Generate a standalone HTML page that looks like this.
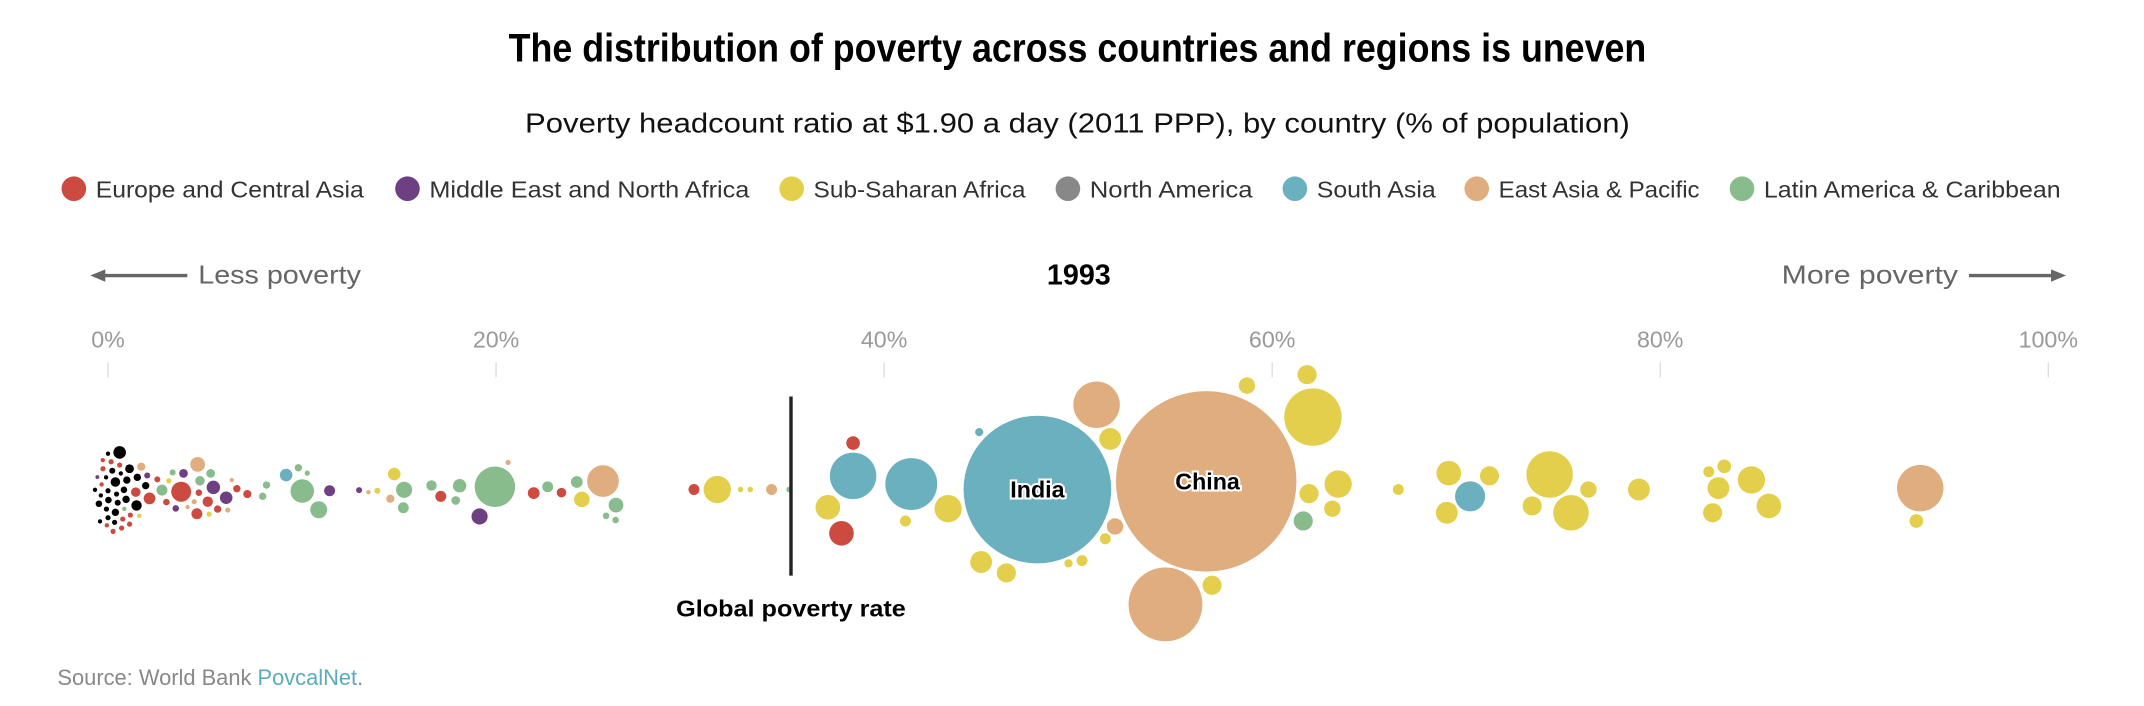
<!DOCTYPE html>
<html><head><meta charset="utf-8">
<style>
html,body{margin:0;padding:0;background:#fff;}
svg{display:block;}
text{font-family:"Liberation Sans",sans-serif;}
</style></head>
<body>
<svg id="chart" width="2144" height="706" viewBox="0 0 1568 516.3" xmlns="http://www.w3.org/2000/svg">
  <text x="788" y="45" text-anchor="middle" font-size="29" font-weight="bold" textLength="832" lengthAdjust="spacingAndGlyphs">The distribution of poverty across countries and regions is uneven</text>
  <text x="788" y="97" text-anchor="middle" font-size="20" fill="#111" textLength="808" lengthAdjust="spacingAndGlyphs">Poverty headcount ratio at $1.90 a day (2011 PPP), by country (% of population)</text>
  <g id="legend"></g>
  <g>
    <line x1="74" y1="201.5" x2="137" y2="201.5" stroke="#666" stroke-width="2.5"/>
    <polygon points="66,201.5 77,197 77,206" fill="#666"/>
    <text x="145" y="207.5" font-size="19" fill="#666" textLength="119" lengthAdjust="spacingAndGlyphs">Less poverty</text>
  </g>
  <text x="789" y="208" text-anchor="middle" font-size="21" font-weight="bold">1993</text>
  <g>
    <text x="1303" y="207.5" font-size="19" fill="#666" textLength="129" lengthAdjust="spacingAndGlyphs">More poverty</text>
    <line x1="1440" y1="201.5" x2="1503" y2="201.5" stroke="#666" stroke-width="2.5"/>
    <polygon points="1511,201.5 1500,197 1500,206" fill="#666"/>
  </g>
  <g id="axis"></g>
  <g id="bubbles"></g>
  <g id="annot"></g>
  <text x="42" y="501" font-size="16" fill="#888">Source: World Bank <tspan fill="#5aabbd">PovcalNet</tspan>.</text>
</svg>
<script>
const regionNames = ["Europe and Central Asia","Middle East and North Africa","Sub-Saharan Africa","North America","South Asia","East Asia & Pacific","Latin America & Caribbean"];
const regionColors = ["#cc4a3f","#6e3f82","#e3cf4c","#888888","#6bb0bf","#e0ae7e","#88bc8c"];
const tickValues = [0,20,40,60,80,100];
const tickLabels = ["0%","20%","40%","60%","80%","100%"];
const globalRate = 35.2;
// region codes: E,M,S,N,A,P,L, H = high income (black)
const regions = "HHHHHHHHHHHHHHHHHHHHHHHHH"+"EEEEEEEEEEEEEEEEEEEEEEEEEEEE"+"PPPPPPPPPPPPPPPP"+"MMMMMMMMM"+"LLLLLLLLLLLLLLLLLLLLLLLL"+"SSSSSSSSSSSSSSSSSSSSSSSSSSSSSSSSSSSSSSSSS"+"AAAAAA";
const values = [0.60,0.00,1.11,0.66,0.22,-0.10,0.38,0.97,1.51,1.94,-0.67,0.00,0.82,0.44,-0.37,0.02,0.93,-0.47,0.50,1.47,-0.08,0.38,0.00,-0.41,0.34,
-0.27,0.16,0.60,-0.26,-0.33,1.43,2.14,2.54,3.77,3.01,4.68,5.14,4.58,5.65,6.64,7.18,1.15,0.76,1.11,0.70,-0.06,0.26,17.15,21.94,23.37,38.4,37.8,30.2,
1.71,4.62,4.44,4.10,6.17,6.38,14.55,13.42,20.62,25.51,34.2,54.5,50.95,51.9,56.6,93.4,
-0.55,2.02,3.89,5.43,6.09,3.49,11.42,12.94,19.15,
3.33,5.29,4.74,2.78,0.84,8.17,7.97,9.81,10.27,10.01,10.86,15.26,15.22,16.67,18.12,17.92,19.94,22.66,24.16,26.18,25.67,26.16,35.1,61.6,
3.13,1.61,5.21,14.75,13.88,24.42,31.4,32.6,33.1,62.1,61.8,58.7,51.65,37.1,41.1,43.3,45.0,46.3,49.5,50.2,51.4,56.9,61.9,63.4,63.1,66.5,69.1,69.0,71.2,74.3,75.4,73.4,76.3,78.9,82.5,83.3,83.0,82.7,84.7,85.6,93.2,
9.18,47.9,44.9,38.4,41.4,70.2];
const sizes = [4.6,1.6,3.2,1.6,2.2,1.6,3.5,2.7,2.7,2.7,1.6,1.9,2.4,1.9,1.6,2.4,2.7,2.4,2.2,3.8,1.9,2.7,1.9,1.6,1.9,
1.6,1.9,1.9,1.9,1.6,3.5,4.3,2.2,7.3,2.4,2.4,3.8,4.0,2.7,2.7,3.0,1.9,1.9,1.9,1.9,1.6,1.9,4.0,4.3,3.5,5,9,4,
3.0,5.4,1.9,1.6,1.9,1.6,3.0,1.6,1.9,11.6,4,27,17,6,66,17,
1.4,2.2,3.2,4.9,4.6,2.4,4.0,2.2,5.9,
2.2,3.2,3.5,4.0,1.6,2.7,2.7,2.7,1.9,8.6,6.2,5.9,4.0,3.8,4.9,3.2,14.8,4.0,4.3,5.4,2.4,2.4,2,7,
1.9,1.6,1.9,4.6,2.2,5.7,10,2,2,21,7,6,8,9,4,10,8,7,3,4,4,7,7,10,6,4,9,8,7,17,13,7,6,8,4,5,8,7,10,9,5,
4.6,54,3,17,19,11];
const offsets = [-24.1,-23.2,-12.2,-8.8,-10.7,-5.9,-2.5,-3.9,-5.9,0.2,3.2,3.9,3.2,6.3,7.3,10.7,10.2,13.4,12.7,14.6,17.3,19.7,23.6,26.3,27.0,
-18.5,-17.3,-14.9,-12.2,-0.7,4.9,9.5,-4.4,4.6,12.2,5.3,11.9,20.7,17.3,2.4,6.3,21.7,24.6,28.3,31.2,29.2,33.6,8.0,5.6,5.3,-31,35,3,
-13.7,-15.4,11.9,15.8,18.0,-3.9,9.7,4.9,-16.8,-3.2,3,87,-59,30,-3,2,
-6.1,-7.3,-8.8,1.4,9.0,16.8,3.9,3.4,22.7,
-9.5,-8.8,-3.4,3.4,17.1,-0.3,8.0,-12.9,-9.0,4.1,17.8,3.2,16.3,0,0.2,11.0,1.0,1.0,-2.5,14.4,22.2,25.3,3,26,
-3.4,22.2,21.0,-8.3,3.9,10.2,3,3,3,-50,-81,-73,-34,16,26,17,56,64,57,55,39,73,6,-1,17,3,-9,20,-7,-8,20,15,3,3,-10,-14,2,20,-4,15,26,
-7.6,3,-39,-7,-1,8];
const labelNames = ["India","China"];
const labelIdx = [values.indexOf(47.9), values.indexOf(56.6)];

const NS = "http://www.w3.org/2000/svg";
const X0 = 79, X1 = 1498, CY = 355;
const xScale = v => X0 + (X1 - X0) * v / 100;
const codeMap = {E:0,M:1,S:2,N:3,A:4,P:5,L:6};
const colorOf = c => c === "H" ? "#000" : regionColors[codeMap[c]];
function mk(tag, attrs, parent){const e=document.createElementNS(NS,tag);for(const k in attrs)e.setAttribute(k,attrs[k]);parent.appendChild(e);return e;}

// legend
const legend = document.getElementById("legend");
const legendX = [54,298,579,781,947,1080,1274];
const legendW = [196,234,155,119,87,147,217];
regionNames.forEach((n,i)=>{
  const g = mk("g",{},legend);
  
  
  mk("circle",{cx:legendX[i],cy:138,r:9,fill:regionColors[i]},g);
  const t = mk("text",{x:legendX[i]+16,y:144.5,"font-size":17,fill:"#333",textLength:legendW[i],lengthAdjust:"spacingAndGlyphs"},g);
  t.textContent = n;
});

// axis
const axis = document.getElementById("axis");
tickValues.forEach((v,i)=>{
  const x = xScale(v);
  const t = mk("text",{x:x,y:254,"text-anchor":"middle","font-size":17,fill:"#999"},axis);
  
  
  t.textContent = tickLabels[i];
  const l = mk("line",{x1:x,y1:265,x2:x,y2:276,stroke:"#ddd","stroke-width":1},axis);
  
  
});

// bubbles
const bub = document.getElementById("bubbles");
const order = values.map((_,i)=>i).sort((a,b)=>sizes[b]-sizes[a]);
order.forEach(i=>{
  const c = mk("circle",{cx:xScale(values[i]),cy:CY+offsets[i],r:sizes[i],fill:colorOf(regions[i])},bub);
  
  
});
labelIdx.forEach((idx,k)=>{
  const t = mk("text",{x:xScale(values[idx])+(k===1?1:0),y:CY+offsets[idx]+6,"text-anchor":"middle","font-size":17,"font-weight":"bold",fill:"#000",stroke:"#fff","stroke-width":3,"paint-order":"stroke"},bub);
  
  
  t.textContent = labelNames[k];
});

// global poverty line
const an = document.getElementById("annot");
const gx = xScale(globalRate);
const gl = mk("line",{x1:gx,y1:290,x2:gx,y2:421,stroke:"#222","stroke-width":2.5},an);


const gt = mk("text",{x:gx,y:451,"text-anchor":"middle","font-size":17,"font-weight":"bold",textLength:168,lengthAdjust:"spacingAndGlyphs"},an);


gt.textContent = "Global poverty rate";
</script>
</body></html>
